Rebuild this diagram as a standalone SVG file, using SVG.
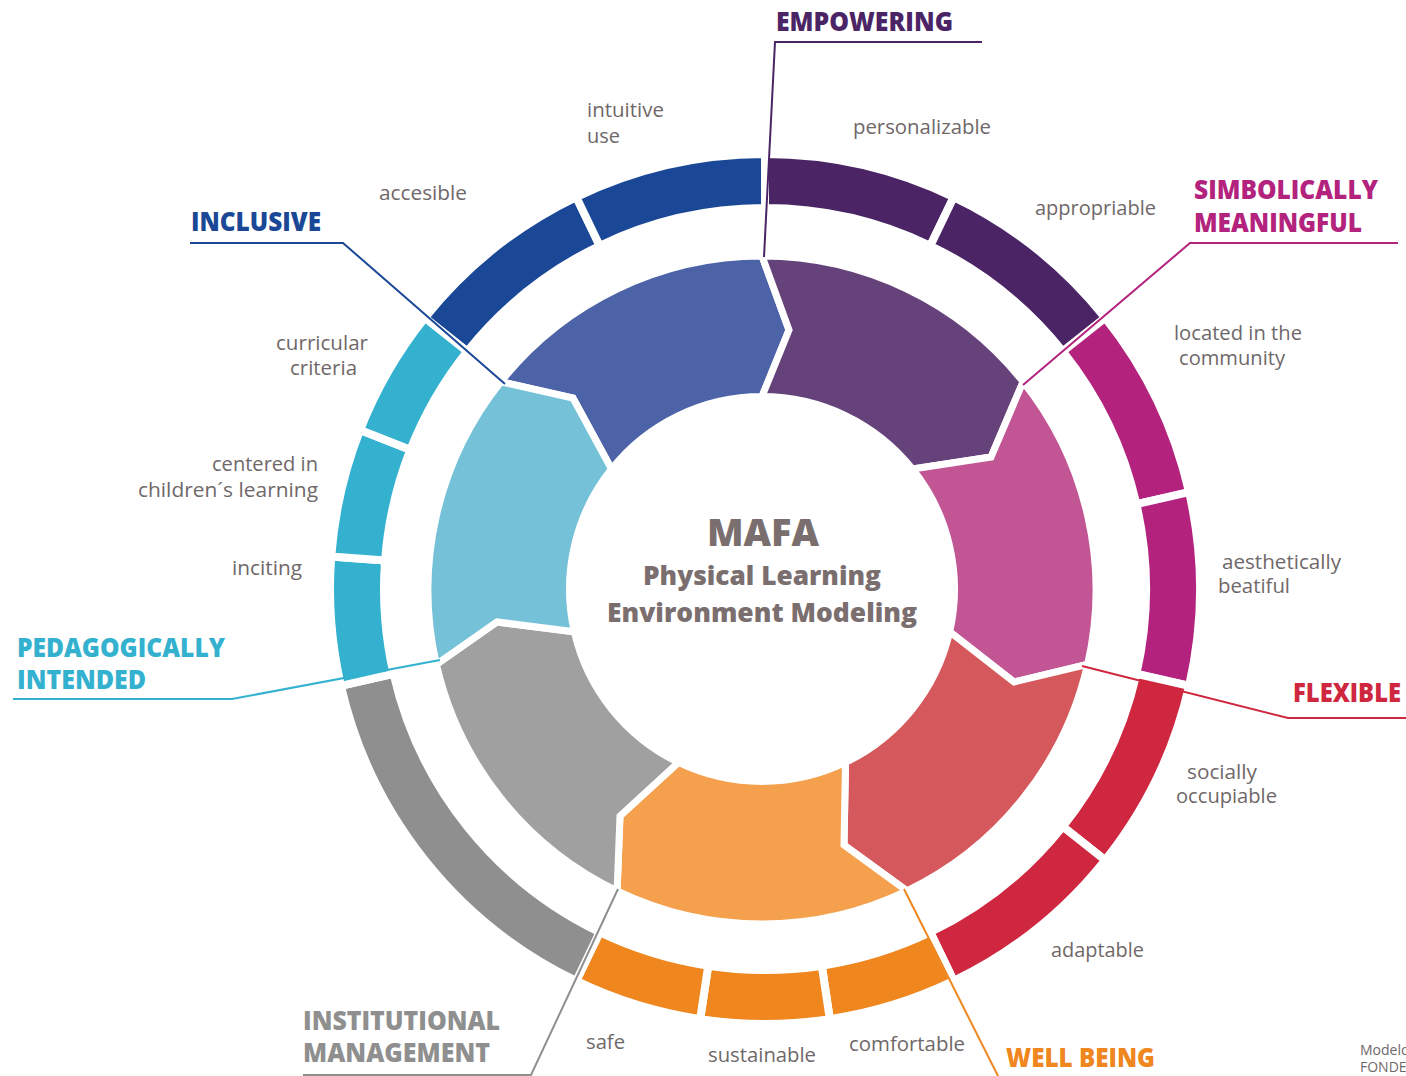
<svg xmlns="http://www.w3.org/2000/svg" width="1406" height="1076" viewBox="0 0 1406 1076">
<defs>
<style>
.in{stroke:#fff;stroke-width:7;stroke-linejoin:miter}
.out{stroke:#fff;stroke-width:8;stroke-linejoin:miter}
.cat{font-family:"Open Sans","Liberation Sans",sans-serif;font-weight:800;font-size:27px}
.sub{font-family:"Open Sans","Liberation Sans",sans-serif;font-size:20px;fill:#6f6869}
.ctr{font-family:"Open Sans","Liberation Sans",sans-serif;font-weight:800;fill:#7a6e6e}
.con{fill:none;stroke-width:2}
</style>
</defs>
<rect width="1406" height="1076" fill="#fff"/>

<g id="inclusive">
<path class="out" fill="#1a4896" d="M424.90 317.78A435 435 0 0 1 576.26 197.08L599.69 245.73A381 381 0 0 0 467.12 351.45Z"/>
<path class="out" fill="#1a4896" d="M576.26 197.08A435 435 0 0 1 765 154L765 208A381 381 0 0 0 599.69 245.73Z"/>
<path class="in" fill="#4d63a8" d="M500.87 381.75A334 334 0 0 1 762 256L789 330L762 396.5A192.5 192.5 0 0 0 611.5 469L573 398Z"/>
<text class="cat" fill="#1a4896" x="191" y="231" textLength="130" lengthAdjust="spacingAndGlyphs">INCLUSIVE</text>
<text class="sub" x="587" y="117" textLength="77" lengthAdjust="spacingAndGlyphs">intuitive</text>
<text class="sub" x="587" y="143" textLength="33" lengthAdjust="spacingAndGlyphs">use</text>
<text class="sub" x="379" y="200" textLength="88" lengthAdjust="spacingAndGlyphs">accesible</text>
</g>

<g id="empowering">
<path class="out" fill="#4b2466" d="M765 154A435 435 0 0 1 953.74 197.08L930.31 245.73A381 381 0 0 0 765 208Z"/>
<path class="out" fill="#4b2466" d="M953.74 197.08A435 435 0 0 1 1105.1 317.78L1062.88 351.45A381 381 0 0 0 930.31 245.73Z"/>
<path class="in" fill="#66427a" d="M762 256A334 334 0 0 1 1023.13 381.75L991 457L912.5 469A192.5 192.5 0 0 0 762 396.5L789 330Z"/>
<text class="cat" fill="#4b2466" x="776" y="31" textLength="177" lengthAdjust="spacingAndGlyphs">EMPOWERING</text>
<text class="sub" x="853" y="134" textLength="138" lengthAdjust="spacingAndGlyphs">personalizable</text>
<text class="sub" x="1035" y="215" textLength="121" lengthAdjust="spacingAndGlyphs">appropriable</text>
</g>

<g id="simbolically-meaningful">
<path class="out" fill="#b3237d" d="M1105.1 317.78A435 435 0 0 1 1189.09 492.2L1136.45 504.22A381 381 0 0 0 1062.88 351.45Z"/>
<path class="out" fill="#b3237d" d="M1189.09 492.2A435 435 0 0 1 1189.09 685.8L1136.45 673.78A381 381 0 0 0 1136.45 504.22Z"/>
<path class="in" fill="#c25594" d="M1023.13 381.75A334 334 0 0 1 1087.63 664.32L1014 682L949.7 631.8A192.5 192.5 0 0 0 912.5 469L991 457Z"/>
<text class="cat" fill="#b3237d" x="1194" y="199" textLength="184" lengthAdjust="spacingAndGlyphs">SIMBOLICALLY</text>
<text class="cat" fill="#b3237d" x="1194" y="232" textLength="168" lengthAdjust="spacingAndGlyphs">MEANINGFUL</text>
<text class="sub" x="1174" y="340" textLength="128" lengthAdjust="spacingAndGlyphs">located in the</text>
<text class="sub" x="1179" y="365" textLength="106" lengthAdjust="spacingAndGlyphs">community</text>
<text class="sub" x="1222" y="569" textLength="119" lengthAdjust="spacingAndGlyphs">aesthetically</text>
<text class="sub" x="1218" y="593" textLength="72" lengthAdjust="spacingAndGlyphs">beatiful</text>
</g>

<g id="flexible">
<path class="out" fill="#cf273f" d="M1189.09 685.8A435 435 0 0 1 1105.1 860.22L1062.88 826.55A381 381 0 0 0 1136.45 673.78Z"/>
<path class="out" fill="#cf273f" d="M1105.1 860.22A435 435 0 0 1 953.74 980.92L930.31 932.27A381 381 0 0 0 1062.88 826.55Z"/>
<path class="in" fill="#d5595c" d="M1087.63 664.32A334 334 0 0 1 906.92 890.92L844 845L845.5 762.4A192.5 192.5 0 0 0 949.7 631.8L1014 682Z"/>
<text class="cat" fill="#cf273f" x="1293" y="702" textLength="108" lengthAdjust="spacingAndGlyphs">FLEXIBLE</text>
<text class="sub" x="1187" y="779" textLength="70" lengthAdjust="spacingAndGlyphs">socially</text>
<text class="sub" x="1176" y="803" textLength="101" lengthAdjust="spacingAndGlyphs">occupiable</text>
<text class="sub" x="1051" y="957" textLength="93" lengthAdjust="spacingAndGlyphs">adaptable</text>
</g>

<g id="well-being">
<path class="out" fill="#ef861e" d="M953.74 980.92A435 435 0 0 1 829.83 1019.14L821.78 965.74A381 381 0 0 0 930.31 932.27Z"/>
<path class="out" fill="#ef861e" d="M829.83 1019.14A435 435 0 0 1 700.17 1019.14L708.22 965.74A381 381 0 0 0 821.78 965.74Z"/>
<path class="out" fill="#ef861e" d="M700.17 1019.14A435 435 0 0 1 576.26 980.92L599.69 932.27A381 381 0 0 0 708.22 965.74Z"/>
<path class="in" fill="#f4a04d" d="M906.92 890.92A334 334 0 0 1 617.08 890.92L620 816L678.5 762.4A192.5 192.5 0 0 0 845.5 762.4L844 845Z"/>
<text class="cat" fill="#ef861e" x="1006" y="1067" textLength="149" lengthAdjust="spacingAndGlyphs">WELL BEING</text>
<text class="sub" x="849" y="1051" textLength="116" lengthAdjust="spacingAndGlyphs">comfortable</text>
<text class="sub" x="708" y="1062" textLength="108" lengthAdjust="spacingAndGlyphs">sustainable</text>
<text class="sub" x="586" y="1049" textLength="39" lengthAdjust="spacingAndGlyphs">safe</text>
</g>

<g id="institutional-management">
<path class="out" fill="#8f8f8f" d="M576.26 980.92A435 435 0 0 1 340.91 685.8L393.55 673.78A381 381 0 0 0 599.69 932.27Z"/>
<path class="in" fill="#a0a0a0" d="M617.08 890.92A334 334 0 0 1 436.37 664.32L497 622L574.3 631.8A192.5 192.5 0 0 0 678.5 762.4L620 816Z"/>
<text class="cat" fill="#8f8f8f" x="303" y="1030" textLength="197" lengthAdjust="spacingAndGlyphs">INSTITUTIONAL</text>
<text class="cat" fill="#8f8f8f" x="303" y="1062" textLength="187" lengthAdjust="spacingAndGlyphs">MANAGEMENT</text>
</g>

<g id="pedagogically-intended">
<path class="out" fill="#33b1cf" d="M340.91 685.8A435 435 0 0 1 331.22 556.49L385.07 560.53A381 381 0 0 0 393.55 673.78Z"/>
<path class="out" fill="#33b1cf" d="M331.22 556.49A435 435 0 0 1 360.07 430.08L410.34 449.81A381 381 0 0 0 385.07 560.53Z"/>
<path class="out" fill="#33b1cf" d="M360.07 430.08A435 435 0 0 1 424.9 317.78L467.12 351.45A381 381 0 0 0 410.34 449.81Z"/>
<path class="in" fill="#75c1d7" d="M436.37 664.32A334 334 0 0 1 500.87 381.75L573 398L611.5 469A192.5 192.5 0 0 0 574.3 631.8L497 622Z"/>
<text class="cat" fill="#33b1cf" x="17" y="657" textLength="208" lengthAdjust="spacingAndGlyphs">PEDAGOGICALLY</text>
<text class="cat" fill="#33b1cf" x="17" y="689" textLength="129" lengthAdjust="spacingAndGlyphs">INTENDED</text>
<text class="sub" x="276" y="350" textLength="92" lengthAdjust="spacingAndGlyphs">curricular</text>
<text class="sub" x="290" y="375" textLength="67" lengthAdjust="spacingAndGlyphs">criteria</text>
<text class="sub" x="212" y="471" textLength="106" lengthAdjust="spacingAndGlyphs">centered in</text>
<text class="sub" x="138" y="497" textLength="180" lengthAdjust="spacingAndGlyphs">children´s learning</text>
<text class="sub" x="232" y="575" textLength="70" lengthAdjust="spacingAndGlyphs">inciting</text>
</g>

<g id="center">
<text class="ctr" x="707" y="546" font-size="37" textLength="112" lengthAdjust="spacingAndGlyphs">MAFA</text>
<text class="ctr" x="643" y="585" font-size="27" textLength="238" lengthAdjust="spacingAndGlyphs">Physical Learning</text>
<text class="ctr" x="607" y="622" font-size="27" textLength="310" lengthAdjust="spacingAndGlyphs">Environment Modeling</text>
</g>

<g id="connectors">
<polyline class="con" stroke="#4b2466" points="982,42 775,42 764,257"/>
<polyline class="con" stroke="#b3237d" points="1398,243 1190,243 1023,385"/>
<polyline class="con" stroke="#cf273f" points="1406,718 1288,718 1082,666"/>
<polyline class="con" stroke="#ef861e" points="904,889 999,1078"/>
<polyline class="con" stroke="#8f8f8f" points="303,1075 531,1075 618,889"/>
<polyline class="con" stroke="#33b1cf" points="13,699 232,699 440,660"/>
<polyline class="con" stroke="#1a4896" points="190,243 343,243 505,384"/>
</g>

<g id="credit">
<text class="sub" x="1360" y="1055" style="font-size:14px">Modelo</text>
<text class="sub" x="1360" y="1072" style="font-size:14px">FONDE</text>
</g>
</svg>
